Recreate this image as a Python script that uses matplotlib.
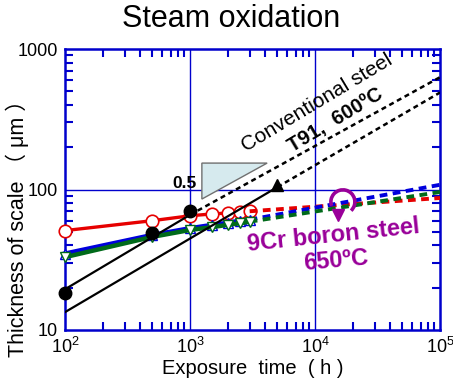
import numpy as np
import matplotlib
matplotlib.use("Agg")
import matplotlib.pyplot as plt
from matplotlib.patches import Polygon, Arc
from matplotlib.ticker import LogLocator, NullFormatter, FixedLocator

plt.rcParams['font.family'] = ['Liberation Sans', 'Noto Sans CJK JP', 'DejaVu Sans']
plt.rcParams['mathtext.fontset'] = 'custom'
plt.rcParams['mathtext.rm'] = 'Liberation Sans'
plt.rcParams['mathtext.it'] = 'Liberation Sans'

# ---- data ----
time_9cr = [100, 500, 1000, 1500, 2000, 2500, 3000]
red_y = [51, 60, 65, 67, 68, 69, 70]
blue_y = [35, 47.5, 53, 56, 58, 60, 61]
green_y = [33, 46, 51.5, 54, 56, 57.5, 59]
ext_x = [3000, 100000]
red_ext = [70, 87]
blue_ext = [61, 108]
green_ext = [59, 96]

t91_circ_x = [100, 500, 1000]
t91_circ_y = [18.3, 49, 70]
t91_tri_x = [5000]
t91_tri_y = [108]

upper_solid_x = [100, 1000]
upper_solid_y = [19.5, 66]
upper_dash_x = [1000, 100000]
upper_dash_y = [66, 630]
lower_solid_x = [100, 5000]
lower_solid_y = [13.4, 104]
lower_dash_x = [5000, 100000]
lower_dash_y = [104, 490]

xticks = [1e2, 1e3, 1e4, 1e5]
xticklabels = ['$10^2$', '$10^3$', '$10^4$', '$10^5$']
yticks = [10, 100, 1000]
yticklabels = ['10', '100', '1000']

BLUE_AX = '#0000cc'
RED = '#e60000'
BLUE = '#0000dd'
GREEN = '#006a1a'
PURPLE = '#990099'

fig = plt.figure(figsize=(4.53, 3.81), dpi=100)
ax = fig.add_axes([65/453, 1-330/381, 375/453, 281/381])
ax.set_xscale('log')
ax.set_yscale('log')
ax.set_xlim(1e2, 1e5)
ax.set_ylim(10, 1000)

# grid
for v in xticks[1:-1]:
    ax.axvline(v, color=BLUE_AX, lw=1.0, zorder=1)
ax.axhline(100, color=BLUE_AX, lw=1.0, zorder=1)

# colored series
ax.plot(time_9cr, red_y, '-', color=RED, lw=2.4, marker='o', ms=9,
        mfc='white', mec=RED, mew=1.2, zorder=3, clip_on=False)
ax.plot(ext_x, red_ext, '--', color=RED, lw=2.8, dashes=(2.0, 1.4), zorder=3)
ax.plot(time_9cr, blue_y, '-', color=BLUE, lw=3.2, marker='^', ms=7.5,
        mfc='white', mec=BLUE, mew=1.0, zorder=3, clip_on=False)
ax.plot(ext_x, blue_ext, '--', color=BLUE, lw=2.8, dashes=(2.0, 1.4), zorder=3)
ax.plot(time_9cr, green_y, '-', color=GREEN, lw=3.2, marker='v', ms=7.5,
        mfc='white', mec=GREEN, mew=1.0, zorder=3.1, clip_on=False)
ax.plot(ext_x, green_ext, '--', color=GREEN, lw=2.8, dashes=(2.0, 1.4), zorder=3)

# T91 lines
ax.plot(upper_solid_x, upper_solid_y, '-', color='black', lw=1.6, zorder=4)
ax.plot(upper_dash_x, upper_dash_y, '--', color='black', lw=1.8, dashes=(2.0, 1.5), zorder=4)
ax.plot(lower_solid_x, lower_solid_y, '-', color='black', lw=1.6, zorder=4)
ax.plot(lower_dash_x, lower_dash_y, '--', color='black', lw=1.8, dashes=(2.0, 1.5), zorder=4)
ax.plot(t91_circ_x, t91_circ_y, 'o', color='black', ms=9, zorder=5, clip_on=False)
ax.plot(t91_tri_x, t91_tri_y, '^', color='black', ms=9, zorder=5, clip_on=False)

# slope triangle
tri = Polygon([(0.365, 0.594), (0.539, 0.594), (0.365, 0.466)], closed=True,
              transform=ax.transAxes, facecolor='#d6eaee', edgecolor='#707070',
              lw=1.0, zorder=4.5)
ax.add_patch(tri)
ax.text(0.352, 0.523, '0.5', transform=ax.transAxes, ha='right', va='center',
        fontsize=12.5, fontweight='bold', zorder=6)

ax.text(0.672, 0.808, 'Conventional steel', transform=ax.transAxes,
        ha='center', va='center', fontsize=15, rotation=31, zorder=6)
ax.text(0.722, 0.745, 'T91,  600ºC', transform=ax.transAxes,
        ha='center', va='center', fontsize=14.5, fontweight='bold', rotation=31, zorder=6)
ax.text(0.715, 0.336, '9Cr boron steel', transform=ax.transAxes,
        ha='center', va='center', fontsize=17, fontweight='bold', color=PURPLE,
        rotation=6, zorder=6)
ax.text(0.722, 0.245, '650ºC', transform=ax.transAxes,
        ha='center', va='center', fontsize=17, fontweight='bold', color=PURPLE,
        rotation=5, zorder=6)

# circular arrow icon
cx, cy = 0.741, 0.456
arc = Arc((cx, cy), 24/375, 24/281, theta1=-55, theta2=205,
          transform=ax.transAxes, color=PURPLE, lw=2.6, zorder=6)
ax.add_patch(arc)
ax.plot([cx - 5/375], [cy - 13/281], marker='v', color=PURPLE, ms=8,
        transform=ax.transAxes, zorder=6)

# axes styling
for s in ax.spines.values():
    s.set_color(BLUE_AX)
    s.set_linewidth(1.8)
ax.xaxis.set_major_locator(FixedLocator(xticks))
ax.yaxis.set_major_locator(FixedLocator(yticks))
ax.set_xticklabels(xticklabels)
ax.set_yticklabels(yticklabels)
ax.xaxis.set_minor_locator(LogLocator(base=10, subs=np.arange(2, 10)))
ax.yaxis.set_minor_locator(LogLocator(base=10, subs=np.arange(2, 10)))
ax.xaxis.set_minor_formatter(NullFormatter())
ax.yaxis.set_minor_formatter(NullFormatter())
ax.tick_params(which='both', direction='in', top=True, right=True,
               color=BLUE_AX, labelsize=13)
ax.tick_params(which='major', length=0, pad=5)
ax.tick_params(which='minor', length=6, width=1.5)

ax.set_xlabel('Exposure  time  ( h )', fontsize=14.5)
ax.xaxis.set_label_coords(0.5, (330 - 359) / 281)
ax.set_ylabel('Thickness of scale （ μm ）', fontsize=15.5)
ax.yaxis.set_label_coords((29 - 65) / 375, (330 - 223) / 281)
fig.text(231/453, 1-19/381, 'Steam oxidation', ha='center', va='center', fontsize=22)

fig.savefig('out.png', dpi=100)
